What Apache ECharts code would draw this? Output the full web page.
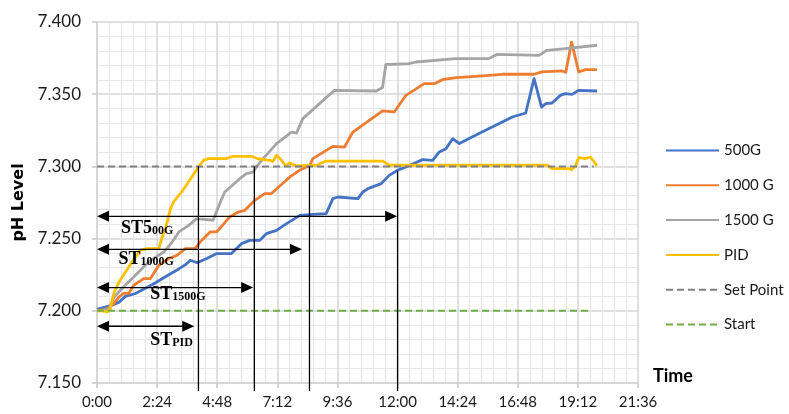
<!DOCTYPE html>
<html>
<head>
<meta charset="utf-8">
<script src="https://cdn.jsdelivr.net/npm/echarts@6/dist/echarts.min.js"></script>
<style>
  html, body { margin: 0; padding: 0; background: #ffffff; }
  #chart { width: 789px; height: 414px; }
</style>
</head>
<body>
<div id="chart"></div>
<script>
// pH readings over time: [minutes since start, pH]
const g500 = [
  [0,7.2010],[37,7.2040],[53,7.2060],[68,7.2100],[92,7.2120],[132,7.2180],[172,7.2250],[196,7.2290],
  [212,7.2320],[224,7.2350],[240,7.2333],[263,7.2362],[287,7.2396],[322,7.2396],[346,7.2465],[366,7.2488],
  [390,7.2488],[406,7.2535],[430,7.2557],[454,7.2604],[486,7.2661],[517,7.2668],[549,7.2673],[565,7.2777],
  [577,7.2788],[625,7.2777],[637,7.2823],[649,7.2846],[681,7.2881],[700,7.2938],[720,7.2973],[740,7.2996],
  [780,7.3047],[804,7.3042],[820,7.3100],[836,7.3123],[852,7.3192],[868,7.3158],[915,7.3227],[995,7.3342],
  [1027,7.3370],[1047,7.3608],[1065,7.3411],[1075,7.3435],[1090,7.3439],[1110,7.3492],[1122,7.3504],
  [1138,7.3499],[1154,7.3527],[1198,7.3522]
];
const g1000 = [
  [0,7.2000],[20,7.2010],[37,7.2040],[53,7.2096],[64,7.2120],[76,7.2120],[88,7.2177],[112,7.2223],
  [128,7.2223],[148,7.2315],[172,7.2362],[192,7.2385],[212,7.2431],[235,7.2431],[247,7.2476],[271,7.2546],
  [287,7.2546],[318,7.2650],[338,7.2684],[354,7.2696],[378,7.2765],[402,7.2812],[418,7.2812],[462,7.2927],
  [485,7.2973],[509,7.3004],[517,7.3054],[565,7.3139],[593,7.3134],[613,7.3238],[684,7.3384],[712,7.3377],
  [740,7.3492],[784,7.3573],[808,7.3573],[828,7.3601],[860,7.3615],[907,7.3624],[971,7.3638],[1047,7.3638],
  [1066,7.3654],[1114,7.3661],[1123,7.3652],[1137,7.3861],[1154,7.3654],[1170,7.3670],[1198,7.3670]
];
const g1500 = [
  [0,7.2000],[15,7.2005],[29,7.2015],[41,7.2096],[60,7.2154],[92,7.2246],[124,7.2338],[148,7.2385],
  [160,7.2407],[180,7.2476],[196,7.2546],[220,7.2592],[239,7.2639],[278,7.2627],[294,7.2742],[306,7.2823],
  [342,7.2915],[358,7.2950],[374,7.2961],[382,7.2996],[398,7.3054],[430,7.3158],[466,7.3238],[478,7.3231],
  [493,7.3331],[533,7.3435],[569,7.3527],[669,7.3522],[684,7.3546],[692,7.3707],[700,7.3707],[748,7.3712],
  [764,7.3723],[860,7.3747],[939,7.3747],[959,7.3776],[1059,7.3769],[1078,7.3804],[1122,7.3816],[1198,7.3839]
];
const pid = [
  [0,7.2000],[13,7.2000],[25,7.1992],[32,7.2015],[41,7.2130],[53,7.2200],[68,7.2269],[92,7.2373],
  [104,7.2419],[120,7.2431],[148,7.2431],[156,7.2511],[163,7.2557],[175,7.2696],[183,7.2753],[203,7.2823],
  [243,7.2996],[255,7.3042],[267,7.3054],[310,7.3054],[326,7.3070],[370,7.3070],[385,7.3053],[414,7.3042],
  [421,7.3032],[430,7.3077],[442,7.3042],[452,7.3003],[462,7.3024],[476,7.3004],[525,7.3008],[549,7.3037],
  [684,7.3037],[700,7.3008],[1078,7.3008],[1090,7.2985],[1130,7.2985],[1137,7.2977],[1146,7.3001],
  [1154,7.3061],[1170,7.3054],[1182,7.3065],[1198,7.3004]
];
const setPoint = [[0,7.300],[1190,7.300]];
const startLevel = [[0,7.200],[1186,7.200]];

const seriesNames = ['500G', '1000 G', '1500 G', 'PID', 'Set Point', 'Start'];

// Settling-time markers: [minute, top pH, bottom pH]
const settleLines = [[243,7.300,7.1445],[377,7.300,7.1445],[509,7.300,7.1445],[720,7.297,7.1445]];
// Settling-time spans: [start minute, end minute, pH level]
const settleSpans = [[0,233,7.1893],[0,374,7.2161],[0,491,7.2426],[0,719,7.2654]];
const spanLabels = [['ST','PID'],['ST','1500G'],['ST','1000G'],['ST5','00G']];
// label anchor (left edge, middle) in data units
const spanLabelAnchors = [[127.5,7.1796],[127.5,7.2114],[51.6,7.2357],[57.3,7.2571]];

const colors = ['#4472c4', '#ed7d31', '#a5a5a5', '#ffc000', '#808080', '#70ad47'];

function hm(v) {
  const h = Math.floor(v / 60), m = Math.round(v % 60);
  return h + ':' + String(m).padStart(2, '0');
}

function lineSeries(name, data, color, dashed) {
  return {
    name: name, type: 'line', data: data, symbol: 'none',
    lineStyle: { color: color, width: dashed ? 2 : 2.8, type: dashed ? [7, 4] : 'solid', join: 'round' },
    itemStyle: { color: color },
    emphasis: { disabled: true },
    animation: false
  };
}

const chart = echarts.init(document.getElementById('chart'), null, { renderer: 'canvas' });

const option = {
  backgroundColor: '#ffffff',
  animation: false,
  grid: { left: 97, top: 22, width: 541, height: 361, containLabel: false },
  legend: {
    data: seriesNames,
    orient: 'vertical',
    left: 665, top: 143,
    padding: 0,
    itemWidth: 53, itemHeight: 14, itemGap: 19.8,
    itemStyle: { opacity: 0 },
    textStyle: { fontFamily: 'Lato', fontSize: 15, color: '#1a1a1a', lineHeight: 14 },
    selectedMode: false
  },
  xAxis: {
    type: 'value', min: 0, max: 1296, interval: 144,
    name: 'Time', nameLocation: 'end', nameGap: 15,
    nameTextStyle: { fontFamily: 'Lato', fontWeight: 'bold', fontSize: 18, color: '#000', align: 'left', verticalAlign: 'bottom', lineHeight: 18, padding: [0,0,-2,0] },
    axisLine: { show: true, lineStyle: { color: '#d4d4d4', width: 1.5 } },
    axisTick: { show: true, length: 5, lineStyle: { color: '#c8c8c8', width: 1.5 } },
    axisLabel: { formatter: hm, fontFamily: 'Lato', fontSize: 15, color: '#1a1a1a', margin: 12 },
    splitLine: { show: true, lineStyle: { color: '#d6d6d6', width: 1.5 } },
    minorTick: { show: false, splitNumber: 5 },
    minorSplitLine: { show: true, lineStyle: { color: '#e8e8e8', width: 1.2 } }
  },
  yAxis: {
    type: 'value', min: 7.15, max: 7.40, interval: 0.05,
    name: 'pH Level', nameLocation: 'middle', nameRotate: 90, nameGap: 66,
    nameTextStyle: { fontFamily: 'DejaVu Sans', fontWeight: 'bold', fontSize: 16, color: '#000' },
    axisLine: { show: true, lineStyle: { color: '#d4d4d4', width: 1.5 } },
    axisTick: { show: true, length: 5, lineStyle: { color: '#c8c8c8', width: 1.5 } },
    axisLabel: { formatter: v => v.toFixed(3), fontFamily: 'Lato', fontSize: 17, color: '#1a1a1a', margin: 16 },
    splitLine: { show: true, lineStyle: { color: '#d6d6d6', width: 1.5 } },
    minorTick: { show: false, splitNumber: 5 },
    minorSplitLine: { show: true, lineStyle: { color: '#e8e8e8', width: 1.2 } }
  },
  series: [
    lineSeries(seriesNames[0], g500, colors[0], false),
    lineSeries(seriesNames[1], g1000, colors[1], false),
    lineSeries(seriesNames[2], g1500, colors[2], false),
    lineSeries(seriesNames[3], pid, colors[3], false),
    lineSeries(seriesNames[4], setPoint, colors[4], true),
    lineSeries(seriesNames[5], startLevel, colors[5], true),
    {
      // vertical settling-time markers
      type: 'custom', name: 'settle-lines', z: 5, clip: false, silent: true,
      data: settleLines,
      encode: { x: 0, y: [1, 2] },
      renderItem: function (params, api) {
        const top = api.coord([api.value(0), api.value(1)]);
        const bot = api.coord([api.value(0), api.value(2)]);
        return {
          type: 'line',
          shape: { x1: top[0], y1: top[1], x2: bot[0], y2: bot[1] },
          style: { stroke: '#000000', lineWidth: 1.3 }
        };
      }
    },
    {
      // double-headed settling-time spans with labels
      type: 'custom', name: 'settle-spans', z: 6, clip: false, silent: true,
      data: settleSpans,
      encode: { x: [0, 1], y: 2 },
      renderItem: function (params, api) {
        const i = params.dataIndex;
        const a = api.coord([api.value(0), api.value(2)]);
        const b = api.coord([api.value(1), api.value(2)]);
        const L = 12, W = 5.5;
        const lab = spanLabels[i];
        const anchor = api.coord(spanLabelAnchors[i]);
        return {
          type: 'group',
          children: [
            { type: 'line', shape: { x1: a[0] + L - 1, y1: a[1], x2: b[0] - L + 1, y2: b[1] },
              style: { stroke: '#000000', lineWidth: 1.3 } },
            { type: 'polygon', shape: { points: [[a[0], a[1]], [a[0] + L, a[1] - W], [a[0] + L, a[1] + W]] },
              style: { fill: '#000000' } },
            { type: 'polygon', shape: { points: [[b[0], b[1]], [b[0] - L, b[1] - W], [b[0] - L, b[1] + W]] },
              style: { fill: '#000000' } },
            { type: 'text', x: anchor[0], y: anchor[1],
              style: {
                text: '{m|' + lab[0] + '}{s|' + lab[1] + '}',
                align: 'left', verticalAlign: 'middle',
                rich: {
                  m: { fontFamily: 'Liberation Serif', fontWeight: 'bold', fontSize: 18, lineHeight: 18, color: '#000', verticalAlign: 'bottom' },
                  s: { fontFamily: 'Liberation Serif', fontWeight: 'bold', fontSize: 12, lineHeight: 10, color: '#000', verticalAlign: 'bottom' }
                }
              } }
          ]
        };
      }
    }
  ]
};

chart.setOption(option);
</script>
</body>
</html>
